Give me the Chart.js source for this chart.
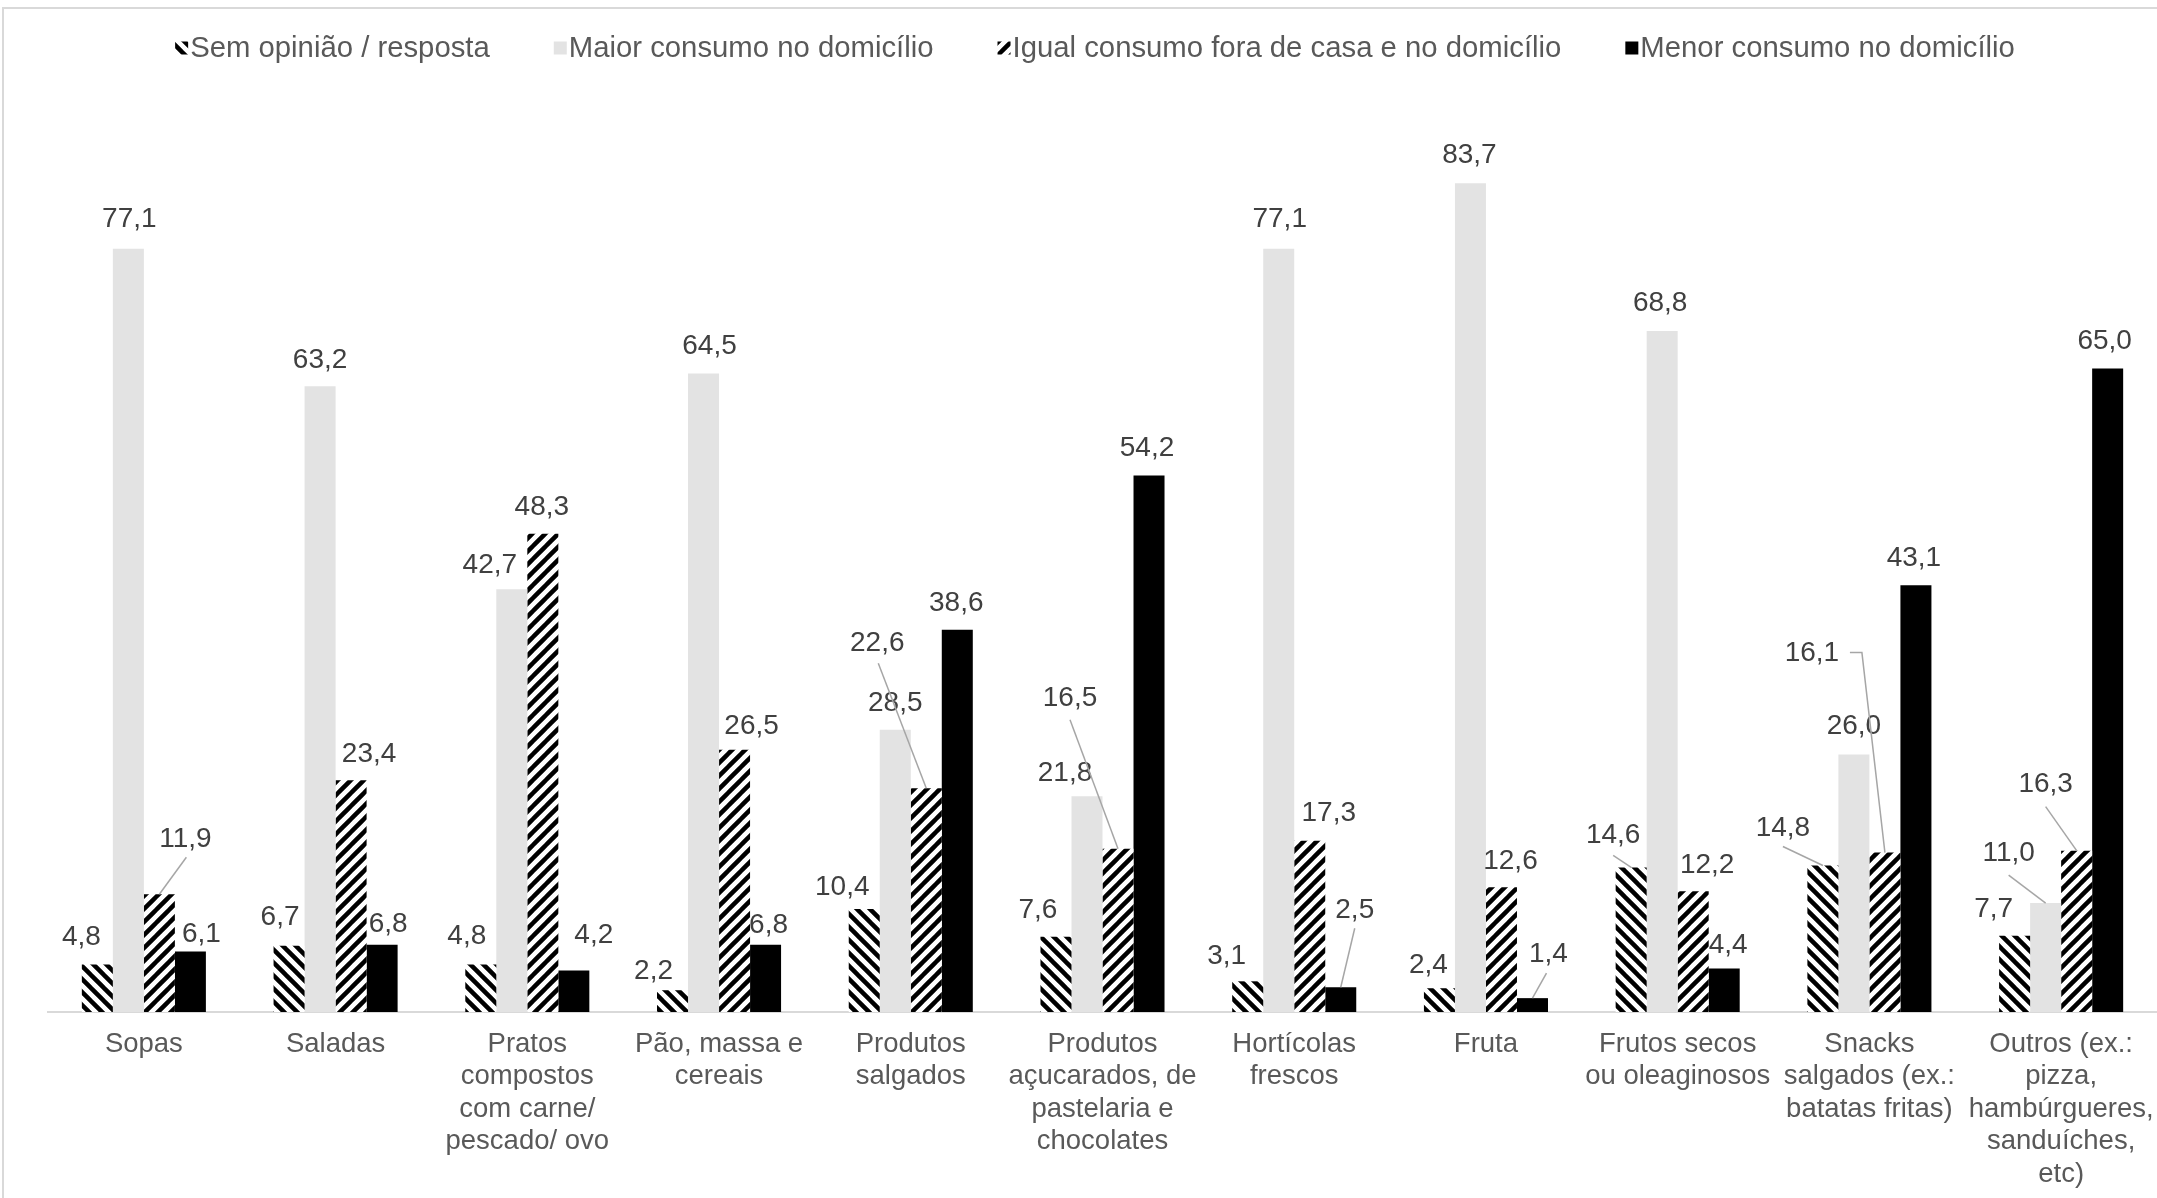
<!DOCTYPE html>
<html>
<head>
<meta charset="utf-8">
<script src="https://cdn.jsdelivr.net/npm/chart.js@4.4.1/dist/chart.umd.min.js"></script>
<style>
  html, body { margin: 0; padding: 0; background: #fff; }
  #wrap { width: 2157px; height: 1198px; position: relative; }
</style>
</head>
<body>
<div id="wrap"><canvas id="chart" width="2157" height="1198"></canvas></div>
<script>
// Categories (multi-line labels as in the original)
const categories = [
  "Sopas",
  "Saladas",
  ["Pratos", "compostos", "com carne/", "pescado/ ovo"],
  ["Pão, massa e", "cereais"],
  ["Produtos", "salgados"],
  ["Produtos", "açucarados, de", "pastelaria e", "chocolates"],
  ["Hortícolas", "frescos"],
  "Fruta",
  ["Frutos secos", "ou oleaginosos"],
  ["Snacks", "salgados (ex.:", "batatas fritas)"],
  ["Outros (ex.:", "pizza,", "hambúrgueres,", "sanduíches,", "etc)"],
];

const seriesNames = [
  "Sem opinião / resposta",
  "Maior consumo no domicílio",
  "Igual consumo fora de casa e no domicílio",
  "Menor consumo no domicílio",
];

// Values (%)
const semOpiniao = [4.8, 6.7, 4.8, 2.2, 10.4, 7.6, 3.1, 2.4, 14.6, 14.8, 7.7];
const maiorConsumo = [77.1, 63.2, 42.7, 64.5, 28.5, 21.8, 77.1, 83.7, 68.8, 26.0, 11.0];
const igualConsumo = [11.9, 23.4, 48.3, 26.5, 22.6, 16.5, 17.3, 12.6, 12.2, 16.1, 16.3];
const menorConsumo = [6.1, 6.8, 4.2, 6.8, 38.6, 54.2, 2.5, 1.4, 4.4, 43.1, 65.0];

// Label placement: offset of each value label from the top centre of its bar (px)
const labelOffsets = [
  [[-16, -27], [-9, -28], [-14, -28], [-19, -19], [-22, -22], [-18, -26], [-21, -25], [-11, -23], [-18, -32], [-40, -37], [-21, -26]],
  [[1, -29], [0, -26], [-22, -24], [6, -27], [0, -27], [-22, -23], [1, -29], [-1, -28], [-2, -28], [0, -28], [-37, -50]],
  [[26, -55], [18, -26], [-1, -27], [17, -23], [-49, -145], [-48, -150], [19, -27], [9, -26], [14, -26], [-73, -199], [-31, -66]],
  [[11, -17], [6, -20], [20, -35], [3, -19], [-1, -27], [-2, -27], [14, -77], [16, -44], [4, -23], [-2, -27], [-3, -27]],
];

// Leader lines: start point relative to label centre, optional horizontal elbow
const leaders = {
  "2,0": { from: [1, 18] },
  "2,4": { from: [1, 20] },
  "2,5": { from: [0, 21] },
  "3,6": { from: [0, 18] },
  "3,7": { from: [-2, 19] },
  "0,8": { from: [0, 20] },
  "0,9": { from: [0, 18] },
  "2,9": { from: [38, -1], elbow: 12 },
  "1,10": { from: [0, 22] },
  "2,10": { from: [0, 22] },
};

const canvas = document.getElementById("chart");
const mainCtx = canvas.getContext("2d");

// Diagonal stripe patterns ("back" = \\\ , "fwd" = ///)
function makeHatch(direction) {
  const size = 13;
  const c = document.createElement("canvas");
  c.width = size;
  c.height = size;
  const g = c.getContext("2d");
  g.fillStyle = "#ffffff";
  g.fillRect(0, 0, size, size);
  g.strokeStyle = "#000000";
  g.lineWidth = 4.5;
  g.lineCap = "square";
  g.beginPath();
  for (let k = -1; k <= 1; k++) {
    if (direction === "back") {
      g.moveTo(k * size, 0);
      g.lineTo(k * size + size, size);
    } else {
      g.moveTo(k * size, size);
      g.lineTo(k * size + size, 0);
    }
  }
  g.stroke();
  return mainCtx.createPattern(c, "repeat");
}

const fills = [makeHatch("back"), "#e3e3e3", makeHatch("fwd"), "#000000"];

function formatValue(v) {
  return v.toFixed(1).replace(".", ",");
}

// Frame + white background
const framePlugin = {
  id: "frame",
  beforeDraw(chart) {
    const ctx = chart.ctx;
    ctx.save();
    ctx.fillStyle = "#ffffff";
    ctx.fillRect(0, 0, chart.width, chart.height);
    ctx.strokeStyle = "#d9d9d9";
    ctx.lineWidth = 2;
    ctx.strokeRect(3, 8, chart.width + 10, chart.height + 10);
    ctx.restore();
  },
};

// Legend drawn by hand to match the tight marker/text spacing
const legendPlugin = {
  id: "customLegend",
  afterDraw(chart) {
    const ctx = chart.ctx;
    ctx.save();
    ctx.font = "29.3px 'Liberation Sans', Arial, sans-serif";
    ctx.textBaseline = "middle";
    ctx.textAlign = "left";
    const box = 13;
    const gap = 2;
    const itemGap = 64;
    const widths = seriesNames.map((n) => ctx.measureText(n).width);
    const total = widths.reduce((a, w) => a + box + gap + w, 0) + itemGap * (seriesNames.length - 1);
    let x = 1095 - total / 2;
    const y = 48;
    seriesNames.forEach((name, i) => {
      ctx.fillStyle = fills[i];
      ctx.fillRect(x, y - box / 2, box, box);
      ctx.fillStyle = "#595959";
      ctx.fillText(name, x + box + gap, y + 1);
      x += box + gap + widths[i] + itemGap;
    });
    ctx.restore();
  },
};

// Value labels with leader lines
const valueLabels = {
  id: "valueLabels",
  afterDatasetsDraw(chart) {
    const ctx = chart.ctx;
    ctx.save();
    ctx.font = "28px 'Liberation Sans', Arial, sans-serif";
    ctx.textAlign = "center";
    ctx.textBaseline = "middle";
    chart.data.datasets.forEach((ds, i) => {
      const meta = chart.getDatasetMeta(i);
      meta.data.forEach((bar, j) => {
        const [dx, dy] = labelOffsets[i][j];
        const lx = bar.x + dx;
        const ly = bar.y + dy;
        const leader = leaders[i + "," + j];
        if (leader) {
          ctx.strokeStyle = "#a6a6a6";
          ctx.lineWidth = 1.5;
          ctx.beginPath();
          const sx = lx + leader.from[0];
          const sy = ly + leader.from[1];
          ctx.moveTo(sx, sy);
          if (leader.elbow) ctx.lineTo(sx + leader.elbow, sy);
          ctx.lineTo(bar.x, bar.y);
          ctx.stroke();
        }
        ctx.fillStyle = "#404040";
        ctx.fillText(formatValue(ds.data[j]), lx, ly);
      });
    });
    ctx.restore();
  },
};

const seriesValues = [semOpiniao, maiorConsumo, igualConsumo, menorConsumo];

new Chart(canvas, {
  type: "bar",
  data: {
    labels: categories,
    datasets: seriesValues.map((vals, i) => ({
      label: seriesNames[i],
      data: vals,
      backgroundColor: fills[i],
      borderWidth: 0,
      categoryPercentage: 0.647,
      barPercentage: 1,
    })),
  },
  options: {
    responsive: false,
    animation: false,
    layout: { padding: { top: 121, left: 48, right: 0, bottom: 0 } },
    plugins: {
      legend: { display: false },
      tooltip: { enabled: false },
    },
    scales: {
      x: {
        grid: { display: false, drawTicks: false },
        border: { display: true, color: "#d9d9d9", width: 2 },
        ticks: {
          color: "#595959",
          font: { family: "'Liberation Sans', Arial, sans-serif", size: 27.5, lineHeight: 1.18 },
          padding: 16,
          maxRotation: 0,
          autoSkip: false,
        },
        afterFit: (scale) => {
          // fixed band for the category labels, no extra side padding
          scale.height = 186;
          scale.paddingLeft = 0;
          scale.paddingRight = 0;
        },
      },
      y: {
        display: false,
        min: 0,
        max: 90,
      },
    },
  },
  plugins: [framePlugin, valueLabels, legendPlugin],
});
</script>
</body>
</html>
